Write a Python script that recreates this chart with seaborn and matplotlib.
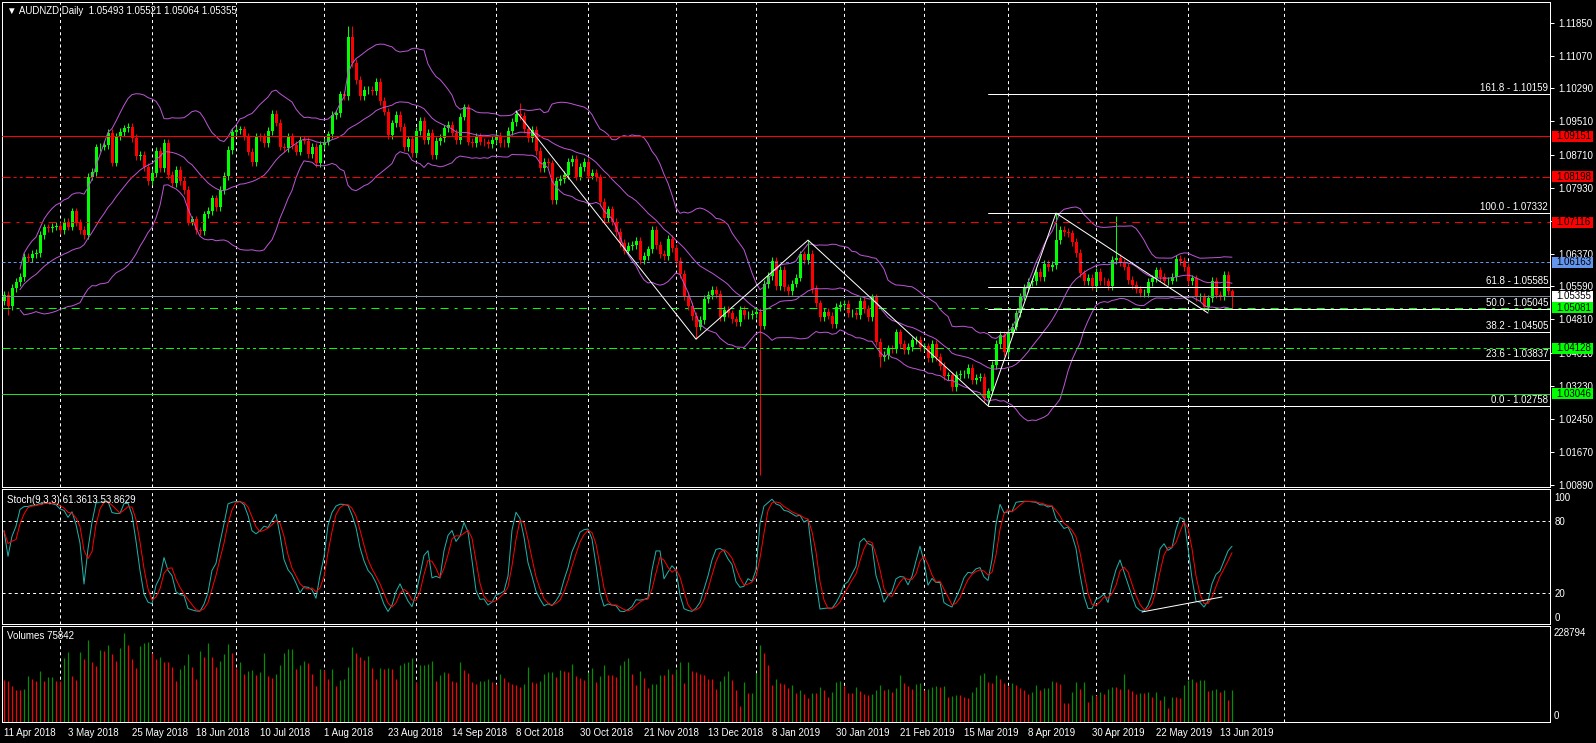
#!/usr/bin/env python3
"""
AUDNZD daily chart rebuilt in the MT4 look:
candles + Bollinger(20,2), Stoch(9,3,3) and tick volumes.
"""

import numpy as np
import pandas as pd
import matplotlib
matplotlib.use("Agg")
import matplotlib.pyplot as plt
import matplotlib.transforms as mtransforms
from matplotlib.patches import Rectangle
import seaborn as sns

W, H, DPI = 1596, 743, 100

# ---- data --------------------------------------------------------------
closes = [
    1.0539, 1.0513, 1.0555, 1.0570, 1.0582, 1.0630, 1.0626, 1.0636, 1.0639, 1.0681,
    1.0699, 1.0697, 1.0701, 1.0703, 1.0692, 1.0713, 1.0701, 1.0737, 1.0711, 1.0693,
    1.0681, 1.0820, 1.0830, 1.0889, 1.0891, 1.0895, 1.0924, 1.0853, 1.0915, 1.0926,
    1.0934, 1.0938, 1.0912, 1.0869, 1.0871, 1.0842, 1.0810, 1.0828, 1.0881, 1.0839,
    1.0900, 1.0824, 1.0804, 1.0836, 1.0809, 1.0788, 1.0713, 1.0718, 1.0692, 1.0691,
    1.0730, 1.0738, 1.0768, 1.0747, 1.0788, 1.0821, 1.0883, 1.0926, 1.0930, 1.0932,
    1.0915, 1.0879, 1.0855, 1.0915, 1.0914, 1.0900, 1.0928, 1.0968, 1.0948, 1.0891,
    1.0887, 1.0915, 1.0895, 1.0879, 1.0907, 1.0905, 1.0873, 1.0891, 1.0851, 1.0895,
    1.0903, 1.0920, 1.0966, 1.0970, 1.1015, 1.1011, 1.1150, 1.1089, 1.1049, 1.1010,
    1.1025, 1.1026, 1.1023, 1.1044, 1.0999, 1.0974, 1.0919, 1.0946, 1.0966, 1.0938,
    1.0889, 1.0908, 1.0875, 1.0928, 1.0952, 1.0907, 1.0924, 1.0871, 1.0904, 1.0912,
    1.0934, 1.0942, 1.0924, 1.0907, 1.0962, 1.0984, 1.0903, 1.0900, 1.0915, 1.0903,
    1.0901, 1.0896, 1.0907, 1.0916, 1.0900, 1.0899, 1.0928, 1.0950, 1.0968, 1.0964,
    1.0932, 1.0912, 1.0930, 1.0881, 1.0839, 1.0854, 1.0851, 1.0764, 1.0809, 1.0814,
    1.0824, 1.0854, 1.0861, 1.0820, 1.0842, 1.0854, 1.0822, 1.0829, 1.0818, 1.0759,
    1.0722, 1.0742, 1.0713, 1.0689, 1.0662, 1.0644, 1.0655, 1.0658, 1.0668, 1.0622,
    1.0631, 1.0647, 1.0693, 1.0657, 1.0636, 1.0631, 1.0672, 1.0650, 1.0620, 1.0589,
    1.0537, 1.0513, 1.0489, 1.0464, 1.0480, 1.0529, 1.0539, 1.0551, 1.0541, 1.0487,
    1.0503, 1.0495, 1.0481, 1.0474, 1.0503, 1.0491, 1.0492, 1.0494, 1.0498, 1.0466,
    1.0565, 1.0584, 1.0620, 1.0559, 1.0598, 1.0557, 1.0548, 1.0566, 1.0580, 1.0635,
    1.0622, 1.0636, 1.0553, 1.0519, 1.0486, 1.0498, 1.0490, 1.0470, 1.0511, 1.0515,
    1.0518, 1.0495, 1.0496, 1.0491, 1.0525, 1.0506, 1.0486, 1.0533, 1.0428, 1.0391,
    1.0396, 1.0412, 1.0410, 1.0450, 1.0422, 1.0408, 1.0416, 1.0431, 1.0432, 1.0416,
    1.0417, 1.0389, 1.0423, 1.0391, 1.0371, 1.0347, 1.0348, 1.0320, 1.0349, 1.0351,
    1.0352, 1.0365, 1.0337, 1.0343, 1.0344, 1.0294, 1.0310, 1.0373, 1.0423, 1.0444,
    1.0404, 1.0452, 1.0464, 1.0495, 1.0535, 1.0555, 1.0570, 1.0571, 1.0594, 1.0582,
    1.0612, 1.0605, 1.0610, 1.0669, 1.0693, 1.0689, 1.0685, 1.0665, 1.0639, 1.0590,
    1.0572, 1.0580, 1.0560, 1.0594, 1.0572, 1.0571, 1.0559, 1.0622, 1.0626, 1.0616,
    1.0606, 1.0574, 1.0562, 1.0552, 1.0543, 1.0544, 1.0570, 1.0578, 1.0597, 1.0582,
    1.0572, 1.0573, 1.0582, 1.0624, 1.0620, 1.0605, 1.0572, 1.0578, 1.0533, 1.0535,
    1.0511, 1.0531, 1.0573, 1.0540, 1.0535, 1.0586, 1.0549, 1.05355,
]
first_open = 1.0525
shadow = 0.0009  # usual wick length past the body
high_marks = {86: 1.1177, 87: 1.1177, 128: 1.0977, 129: 1.0994, 201: 1.0669,
              263: 1.07332, 278: 1.0726, 307: 1.05521}
low_marks = {1: 1.0491, 173: 1.0434, 189: 1.0112, 219: 1.0369, 246: 1.02758,
             307: 1.05064}

# tick volumes, thousands
volumes_k = [
    100.1, 97.7, 85.8, 76.3, 76.0, 77.5, 109.7, 102.5, 97.7, 121.6,
    97.7, 107.3, 108.0, 97.7, 97.0, 151.7, 166.8, 109.7, 100.1, 166.8,
    150.2, 195.4, 143.0, 133.5, 171.6, 169.2, 183.5, 162.1, 145.4, 175.6,
    211.3, 183.5, 150.2, 127.9, 181.1, 189.1, 190.7, 163.7, 150.2, 154.9,
    143.0, 142.0, 131.1, 97.7, 126.3, 135.9, 162.1, 131.1, 102.5, 168.4,
    154.9, 188.3, 154.9, 131.1, 145.4, 162.9, 185.9, 164.5, 128.7, 143.0,
    114.4, 121.6, 124.0, 112.0, 119.2, 164.5, 109.7, 104.9, 114.4, 135.9,
    164.5, 174.0, 175.0, 126.3, 135.9, 145.4, 140.6, 114.4, 85.8, 126.3,
    125.0, 102.5, 126.3, 85.8, 100.1, 102.5, 131.1, 178.8, 164.5, 154.9,
    147.8, 157.3, 128.7, 102.5, 128.7, 127.0, 128.7, 127.0, 102.5, 135.9,
    140.6, 143.0, 152.5, 95.4, 135.9, 136.5, 138.2, 145.4, 97.7, 112.0,
    119.2, 116.8, 97.7, 95.4, 143.0, 124.0, 116.8, 95.4, 90.6, 97.7,
    98.5, 102.5, 95.4, 90.6, 114.4, 104.9, 95.4, 90.6, 88.2, 83.4,
    90.6, 131.1, 95.4, 94.0, 97.7, 114.4, 119.2, 120.0, 107.3, 124.0,
    121.6, 120.0, 138.2, 109.7, 104.9, 100.1, 119.2, 128.7, 95.4, 109.7,
    135.9, 112.0, 111.0, 107.3, 135.9, 145.4, 152.5, 114.4, 88.2, 121.6,
    104.9, 81.1, 90.6, 91.5, 112.0, 111.0, 126.3, 114.4, 126.3, 143.0,
    93.0, 143.0, 121.6, 120.0, 114.4, 113.0, 102.5, 101.7, 78.7, 97.7,
    109.7, 121.6, 100.1, 76.3, 38.2, 95.4, 69.1, 69.5, 116.8, 183.5,
    164.5, 135.9, 88.2, 102.5, 93.0, 90.6, 81.1, 88.2, 69.1, 76.3,
    66.8, 57.2, 69.1, 68.0, 83.4, 76.3, 59.6, 71.5, 95.4, 97.7,
    85.8, 69.1, 68.0, 83.4, 73.9, 66.8, 64.4, 66.8, 76.3, 88.2,
    76.3, 78.7, 71.5, 81.1, 112.0, 93.0, 85.8, 78.7, 90.6, 93.0,
    76.3, 78.7, 83.4, 85.8, 83.4, 85.8, 59.6, 62.0, 64.4, 63.5,
    59.6, 57.2, 71.5, 83.4, 112.0, 116.8, 95.4, 93.0, 112.0, 102.5,
    93.0, 85.8, 93.0, 88.2, 81.1, 76.3, 66.8, 71.5, 88.2, 76.3,
    80.3, 81.1, 97.7, 95.4, 90.6, 45.3, 45.0, 70.7, 95.4, 78.7,
    95.4, 47.7, 64.4, 63.5, 71.5, 66.8, 78.7, 83.4, 82.5, 78.7,
    114.4, 78.7, 73.9, 66.8, 69.1, 68.5, 71.5, 59.6, 71.5, 52.5,
    62.0, 33.4, 59.6, 59.0, 56.4, 88.2, 100.1, 102.5, 95.4, 100.1,
    101.0, 73.9, 76.3, 78.7, 72.3, 76.3, 52.5, 75.842,
]
vol_max = 228794

# horizontal lines and their axis flags
levels = [1.09151, 1.08198, 1.07116, 1.06163, 1.05355, 1.05081, 1.04128, 1.03046]
level_colors = ["#FF0000", "#FF0000", "#FF0000", "#6495ED", "#778899",
                "#00FF00", "#00FF00", "#22DD22"]
level_box = ["#FF0000", "#FF0000", "#FF0000", "#6495ED", "#FFFFFF",
             "#00FF00", "#00FF00", "#00FF00"]
level_styles = ["solid", "dashdotdot", "dashdot", "dash", "solid",
                "dashdot", "dashdotdot", "solid"]

# fibonacci retracement
fib_pcts = ["0.0", "23.6", "38.2", "50.0", "61.8", "100.0", "161.8"]
fib_values = [1.02758, 1.03837, 1.04505, 1.05045, 1.05585, 1.07332, 1.10159]
fib_start = 246

# zig-zag trend line (bar, price) and stochastic support line
trend_bars = [128, 173, 201, 246, 263, 301]
trend_prices = [1.0975, 1.0434, 1.0669, 1.02758, 1.07332, 1.0496]
stoch_line_bars = [284.5, 304.5]
stoch_line_vals = [4.2, 16.7]

price_ticks = [1.11850, 1.11070, 1.10290, 1.09510, 1.08710, 1.07930, 1.07150,
               1.06370, 1.05590, 1.04810, 1.04010, 1.03230, 1.02450, 1.01670, 1.00890]
stoch_ticks = [100, 80, 20, 0]

header = "\u25bc AUDNZD,Daily  1.05493 1.05521 1.05064 1.05355"
stoch_title = "Stoch(9,3,3) 61.3613 53.8629"
vol_title = "Volumes 75842"

BULL, BEAR = "#00FF00", "#FF0000"
VOL_UP, VOL_DN = "#009000", "#FF0000"
BAND = "#BA55D3"
PX = 0.72  # one pixel in points at 100 dpi

DASHES = {
    "solid": "-",
    "dash": (0, (2.2, 1.8)),
    "dashdot": (0, (5.8, 4.3, 2.2, 4.3)),
    "dashdotdot": (0, (5.8, 2.2, 2.2, 2.2, 2.2, 2.2)),
}
GRID = (0, (2.2, 2.2))


def build_ohlc():
    c = np.array(closes)
    o = np.concatenate([[first_open], c[:-1]])
    h = np.maximum(o, c) + shadow
    l = np.minimum(o, c) - shadow
    for i, v in high_marks.items():
        h[i] = v
    for i, v in low_marks.items():
        l[i] = v
    return pd.DataFrame({"open": o, "high": h, "low": l, "close": c})


def indicators(df):
    c = df["close"]
    mid = c.rolling(20, min_periods=5).mean()
    sd = c.rolling(20, min_periods=5).std(ddof=0)
    df["bb_mid"], df["bb_up"], df["bb_dn"] = mid, mid + 2 * sd, mid - 2 * sd
    hh = df["high"].rolling(9, min_periods=1).max()
    ll = df["low"].rolling(9, min_periods=1).min()
    num = (c - ll).rolling(3, min_periods=1).sum()
    den = (hh - ll).rolling(3, min_periods=1).sum()
    df["k"] = 100 * num / den
    df["d"] = df["k"].rolling(3, min_periods=1).mean()
    return df


def frame(ax):
    ax.set_facecolor("black")
    for s in ax.spines.values():
        s.set_color("white")
        s.set_linewidth(PX)
        s.set_visible(True)
    ax.grid(False)


def main():
    sns.set_theme(style="dark")
    plt.rcParams["font.family"] = ["Liberation Sans", "DejaVu Sans"]
    plt.rcParams["lines.scale_dashes"] = False
    plt.rcParams["figure.facecolor"] = "black"

    df = indicators(build_ohlc())
    n = len(df)
    x = np.arange(n)
    dates = pd.bdate_range("2018-04-11", periods=n, freq="C",
                           holidays=["2018-12-25", "2019-01-01"])
    df["bar"] = x

    grid_bars = [i for i in range(1, n) if dates[i].month != dates[i - 1].month]
    grid_bars.append(n - 1 + (pd.Timestamp("2019-07-01") - dates[-1]).days)

    fig = plt.figure(figsize=(W / DPI, H / DPI), dpi=DPI, facecolor="black")
    ax = fig.add_axes([2 / W, 1 - 487 / H, 1548 / W, 485 / H])
    ax_st = fig.add_axes([2 / W, 1 - 624 / H, 1548 / W, 135 / H])
    ax_v = fig.add_axes([2 / W, 1 - 722 / H, 1548 / W, 96 / H])
    xlim = (-0.5, 386.5)

    for a in (ax, ax_st, ax_v):
        frame(a)
        a.set_xlim(*xlim)
        for g in grid_bars:
            a.axvline(g, color="white", lw=PX, ls=GRID, zorder=1)

    # --- price panel
    up = df["close"] >= df["open"]
    cols = np.where(up, BULL, BEAR)
    ax.vlines(x, df["low"], df["high"], colors=cols, lw=PX, zorder=2)
    body = np.maximum((df["close"] - df["open"]).abs(), 0.00012)
    ax.bar(x, body, bottom=np.minimum(df["open"], df["close"]), width=0.75,
           color=cols, linewidth=0, zorder=2.2)
    for col in ("bb_up", "bb_mid", "bb_dn"):
        sns.lineplot(data=df, x="bar", y=col, ax=ax, color=BAND, lw=PX, zorder=2.5)

    for lvl, c, st in zip(levels, level_colors, level_styles):
        ax.axhline(lvl, color=c, lw=PX, ls=DASHES[st], zorder=3)

    for v in fib_values:
        ax.plot([fib_start, xlim[1]], [v, v], color="white", lw=PX, zorder=3)
    ax.plot(trend_bars, trend_prices, color="white", lw=PX, zorder=3.2)

    ax.set_ylim(1.00832, 1.12341)
    ax.yaxis.tick_right()
    ax.set_yticks(price_ticks)
    ax.set_yticklabels([f"{t:.5f}" for t in price_ticks])
    ax.tick_params(axis="y", colors="white", length=3, width=PX, pad=3, labelsize=7)
    ax.tick_params(axis="x", bottom=False, labelbottom=False)
    ax.set_xlabel("")
    ax.set_ylabel("")

    fig_y = mtransforms.blended_transform_factory(fig.transFigure, ax.transData)
    box_h = 11 * (1.12341 - 1.00832) / 485
    for lvl, bc in zip(levels, level_box):
        ax.add_artist(Rectangle((1552 / W, lvl - box_h / 2), 41 / W, box_h,
                                transform=fig_y, facecolor=bc, edgecolor="none",
                                clip_on=False, zorder=5))
        ax.text(1556 / W, lvl, f"{lvl:.5f}", transform=fig_y, color="black",
                fontsize=7, va="center", ha="left", clip_on=False, zorder=6)

    fib_txt = mtransforms.offset_copy(fig_y, fig=fig, y=1, units="dots")
    for p, v in zip(fib_pcts, fib_values):
        ax.text(1548 / W, v, f"{p} - {v:.5f}", transform=fib_txt, color="white",
                fontsize=7, ha="right", va="bottom", clip_on=False, zorder=6)

    # --- stochastic panel
    sns.lineplot(data=df, x="bar", y="k", ax=ax_st, color="#20B2AA", lw=PX, zorder=3)
    sns.lineplot(data=df, x="bar", y="d", ax=ax_st, color="#FF0000", lw=PX, zorder=3.1)
    for lv in (20, 80):
        ax_st.axhline(lv, color="white", lw=PX, ls=GRID, zorder=1)
    ax_st.plot(stoch_line_bars, stoch_line_vals, color="white", lw=PX, zorder=4)
    ax_st.set_ylim(-5.83, 106.67)
    ax_st.yaxis.tick_right()
    ax_st.set_yticks(stoch_ticks)
    ax_st.set_yticklabels([str(t) for t in stoch_ticks])
    ax_st.tick_params(axis="y", colors="white", length=0, pad=3, labelsize=7)
    ax_st.tick_params(axis="x", bottom=False, labelbottom=False)
    ax_st.set_xlabel("")
    ax_st.set_ylabel("")

    # --- volume panel
    vol = np.array(volumes_k) * 1000
    vcol = [VOL_UP if i > 0 and vol[i] > vol[i - 1] else VOL_DN for i in range(n)]
    ax_v.vlines(x, 0, vol, colors=vcol, lw=PX * 1.2, zorder=2)
    ax_v.set_ylim(0, vol_max)
    ax_v.set_yticks([])
    ax_v.text(1 + 4 / 1548, (722 - 633) / 96, str(vol_max), transform=ax_v.transAxes,
              color="white", fontsize=7, va="center", ha="left", clip_on=False)
    ax_v.text(1 + 4 / 1548, (722 - 716) / 96, "0", transform=ax_v.transAxes,
              color="white", fontsize=7, va="center", ha="left", clip_on=False)
    label_bars = list(range(0, n, 16))
    ax_v.set_xticks(label_bars)
    ax_v.set_xticklabels([f"{dates[i].day} {dates[i].strftime('%b %Y')}" for i in label_bars],
                         ha="left")
    ax_v.tick_params(axis="x", colors="white", length=3, width=PX, pad=1,
                     labelsize=7, direction="out")
    ax_v.set_xlabel("")
    ax_v.set_ylabel("")

    # --- panel titles
    fig.text(7 / W, 1 - 11 / H, header, color="white", fontsize=7, va="center")
    fig.text(7 / W, 1 - 500 / H, stoch_title, color="white", fontsize=7, va="center")
    fig.text(7 / W, 1 - 636 / H, vol_title, color="white", fontsize=7, va="center")

    fig.savefig("out.png", dpi=DPI, facecolor="black")


if __name__ == "__main__":
    main()
